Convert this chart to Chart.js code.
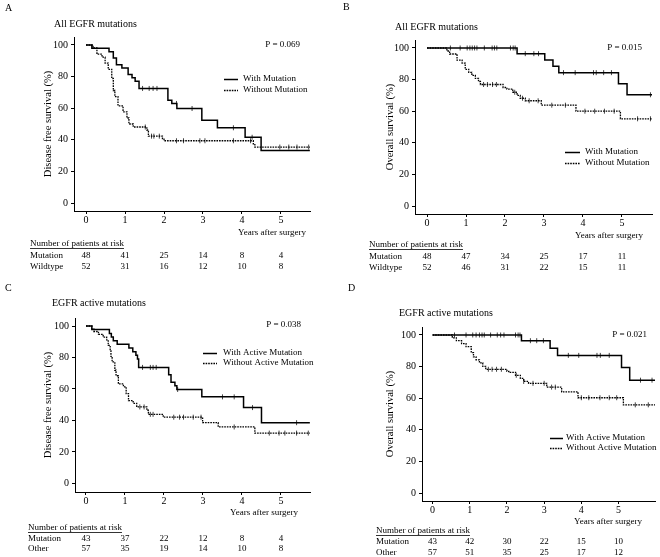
<!DOCTYPE html>
<html><head><meta charset="utf-8">
<script src="https://cdn.jsdelivr.net/npm/chart.js@4.4.0/dist/chart.umd.min.js"></script>
<style>
html,body{margin:0;padding:0;background:#fff;}
#wrap{position:relative;width:660px;height:557px;overflow:hidden;background:#fff;}
canvas{position:absolute;left:0;top:0;}
</style></head><body><div id="wrap">
<canvas id="cA" width="660" height="557"></canvas>
<canvas id="cB" width="660" height="557"></canvas>
<canvas id="cC" width="660" height="557"></canvas>
<canvas id="cD" width="660" height="557"></canvas>
</div>
<script>
// ---------------- DATA ----------------
const xTickValues = [0, 1, 2, 3, 4, 5];
const yTickValues = [0, 20, 40, 60, 80, 100];
const xAxisLabel = 'Years after surgery';
const riskHeader = 'Number of patients at risk';
const panelLetters = ['A', 'B', 'C', 'D'];
const panelTitles = ['All EGFR mutations', 'All EGFR mutations', 'EGFR active mutations', 'EGFR active mutations'];
const yAxisTitles = ['Disease free survival (%)', 'Overall survival (%)', 'Disease free survival (%)', 'Overall survival (%)'];
const pValues = ['P = 0.069', 'P = 0.015', 'P = 0.038', 'P = 0.021'];
const legendAll = ['With Mutation', 'Without Mutation'];
const legendActive = ['With Active Mutation', 'Without Active Mutation'];
const riskLabelsAll = ['Mutation', 'Wildtype'];
const riskLabelsActive = ['Mutation', 'Other'];

// Panel A: disease free survival, all EGFR mutations
const aMutT = [0, 0.15, 0.59, 0.7, 0.78, 0.92, 1.08, 1.18, 1.26, 1.36, 2.1, 2.2, 2.33, 2.97, 3.37, 4.08, 4.49, 5.74];
const aMutS = [100, 97.9, 95.8, 91.7, 87.5, 85.4, 81.3, 79.2, 77.1, 72.5, 65.0, 63.0, 59.8, 52.3, 47.6, 41.6, 33.3, 33.3];
const aMutCens = [1.45, 1.62, 1.72, 1.82, 2.32, 2.72, 3.78, 4.26];
const aWoT = [0, 0.18, 0.28, 0.41, 0.49, 0.57, 0.66, 0.7, 0.74, 0.82, 0.95, 1.05, 1.1, 1.21, 1.56, 1.6, 1.96, 2.0, 4.29, 4.33, 5.74];
const aWoS = [100, 98.1, 94.2, 92.3, 88.5, 84.6, 78.8, 71.2, 67.3, 61.5, 57.7, 53.8, 50.0, 48.1, 46.2, 42.3, 40.4, 39.4, 37.5, 35.4, 35.4];
const aWoCens = [1.52, 1.68, 1.74, 1.88, 2.32, 2.5, 2.92, 3.05, 3.78, 4.22, 4.97, 5.2, 5.41, 5.71];
const aRiskMut = [48, 41, 25, 14, 8, 4];
const aRiskWo = [52, 31, 16, 12, 10, 8];

// Panel B: overall survival, all EGFR mutations
const bMutT = [0, 2.31, 3.02, 3.23, 3.38, 4.91, 5.13, 5.77];
const bMutS = [100, 96.4, 92.4, 88.4, 84.4, 77.4, 70.4, 70.4];
const bMutCens = [0.6, 0.85, 1.03, 1.1, 1.16, 1.22, 1.28, 1.47, 1.67, 1.73, 1.79, 2.14, 2.21, 2.26, 2.52, 2.74, 2.86, 3.5, 3.8, 4.27, 4.34, 4.53, 4.73, 5.73];
const bWoT = [0, 0.51, 0.58, 0.77, 0.9, 0.98, 1.07, 1.15, 1.24, 1.32, 1.37, 1.95, 2.05, 2.2, 2.31, 2.39, 2.52, 2.93, 3.82, 4.96, 5.77];
const bWoS = [100, 98.1, 96.2, 92.3, 90.4, 86.5, 84.6, 82.7, 80.8, 78.8, 76.9, 75.0, 74.0, 72.0, 70.0, 68.2, 66.6, 63.8, 60.0, 55.2, 55.2];
const bWoCens = [1.45, 1.55, 1.68, 1.78, 2.25, 2.45, 2.62, 2.85, 3.2, 3.55, 4.05, 4.3, 4.55, 4.8, 5.4, 5.73];
const bRiskMut = [48, 47, 34, 25, 17, 11];
const bRiskWo = [52, 46, 31, 22, 15, 11];

// Panel C: disease free survival, EGFR active mutations
const cMutT = [0, 0.15, 0.6, 0.65, 0.7, 0.8, 1.1, 1.2, 1.28, 1.32, 1.35, 2.12, 2.18, 2.28, 2.33, 2.97, 4.04, 4.5, 5.74];
const cMutS = [100, 97.7, 95.3, 93.0, 90.7, 88.4, 86.0, 83.7, 81.4, 79.1, 73.7, 69.0, 64.3, 62.0, 59.7, 55.0, 48.2, 38.6, 38.6];
const cMutCens = [1.45, 1.65, 1.72, 1.8, 2.35, 3.5, 3.8, 4.27, 5.4];
const cWoT = [0, 0.15, 0.2, 0.32, 0.44, 0.53, 0.57, 0.62, 0.64, 0.67, 0.74, 0.77, 0.83, 0.96, 1.03, 1.09, 1.21, 1.3, 1.56, 1.6, 1.98, 2.99, 3.39, 4.33, 5.74];
const cWoS = [100, 98.2, 96.5, 94.7, 93.0, 91.2, 87.7, 84.2, 80.7, 77.2, 71.9, 68.4, 63.2, 61.4, 57.0, 52.6, 50.9, 48.6, 46.5, 43.9, 42.1, 38.6, 35.9, 32.0, 32.0];
const cWoCens = [1.38, 1.49, 1.65, 1.72, 2.25, 2.4, 2.5, 2.75, 2.95, 3.8, 4.7, 4.95, 5.1, 5.4, 5.7];
const cRiskMut = [43, 37, 22, 12, 8, 4];
const cRiskWo = [57, 35, 19, 14, 10, 8];

// Panel D: overall survival, EGFR active mutations
const dMutT = [0, 2.39, 3.16, 3.36, 5.08, 5.3, 5.98];
const dMutS = [100, 96.4, 91.6, 87.1, 79.4, 71.4, 71.4];
const dMutCens = [0.59, 0.9, 1.08, 1.17, 1.26, 1.33, 1.39, 1.56, 1.74, 1.83, 1.92, 2.23, 2.3, 2.35, 2.63, 2.8, 2.98, 3.65, 3.93, 4.42, 4.51, 4.75, 5.59, 5.9];
const dWoT = [0, 0.53, 0.64, 0.78, 0.9, 1.04, 1.1, 1.17, 1.26, 1.35, 1.43, 2.0, 2.05, 2.23, 2.36, 2.45, 2.58, 3.07, 3.47, 3.91, 5.13, 5.98];
const dWoS = [100, 98.2, 96.4, 94.6, 92.6, 88.9, 86.2, 84.3, 82.4, 80.2, 78.3, 77.0, 76.4, 74.5, 72.5, 70.6, 69.4, 67.0, 64.0, 60.3, 55.8, 55.8];
const dWoCens = [1.5, 1.6, 1.72, 1.85, 2.25, 2.45, 2.7, 3.0, 3.2, 3.3, 4.0, 4.2, 4.5, 4.75, 4.95, 5.45, 5.8];
const dRiskMut = [43, 42, 30, 22, 15, 10];
const dRiskWo = [57, 51, 35, 25, 17, 12];

// ---------------- LAYOUT / STYLE ----------------
const FONT = "'Liberation Serif','Times New Roman',serif";
const layouts = [
  {panelLeft: 0,   chart: {l: 74,  r: 310, t: 37,  b: 211}, x: [-0.308, 5.744], y: [-5.06, 105.06], yTitleX: 48,
   letter: [5, 8], title: [54, 24], p: [300, 45], legend: {x1: 224, x2: 238, tx: 243, y: [79, 90]}, years: [306, 233], table: {x: 30, y: [244, 256, 267]}},
  {panelLeft: 330, chart: {l: 415, r: 652, t: 40,  b: 214}, x: [-0.308, 5.77], y: [-5.06, 105.06], yTitleX: 390,
   letter: [343, 7], title: [395, 27], p: [642, 48], legend: {x1: 565, x2: 580, tx: 585, y: [152, 163]}, years: [643, 236], table: {x: 369, y: [245, 257, 268]}},
  {panelLeft: 0,   chart: {l: 75,  r: 310, t: 318, b: 492}, x: [-0.282, 5.744], y: [-5.4, 105.08], yTitleX: 48,
   letter: [5, 288], title: [52, 303], p: [301, 325], legend: {x1: 203, x2: 217, tx: 223, y: [353, 363]}, years: [298, 513], table: {x: 28, y: [528, 539, 549]}},
  {panelLeft: 330, chart: {l: 422, r: 658, t: 327, b: 501}, x: [-0.284, 5.98], y: [-5.06, 105.06], yTitleX: 390,
   letter: [348, 288], title: [399, 313], p: [647, 335], legend: {x1: 550, x2: 563, tx: 566, y: [438, 448]}, years: [642, 522], table: {x: 376, y: [531, 542, 553]}}
];

function steps(T, S) { return T.map((t, i) => ({x: t, y: S[i]})); }
function survAt(T, S, t) { let v = S[0]; for (let i = 0; i < T.length; i++) { if (T[i] <= t) v = S[i]; } return v; }
function cens(T, S, C) { return C.map(t => ({x: t, y: survAt(T, S, t)})); }

const annot = {
  id: 'annot',
  afterDraw(chart, args, o) {
    const L = o.L, ctx = chart.ctx, xs = chart.scales.x;
    ctx.save();
    ctx.fillStyle = '#000';
    ctx.textBaseline = 'middle';
    ctx.textAlign = 'left';
    ctx.font = `10px ${FONT}`;
    ctx.fillText(o.letter, L.letter[0], L.letter[1]);
    ctx.fillText(o.title, L.title[0], L.title[1]);
    ctx.font = `9px ${FONT}`;
    ctx.textAlign = 'right';
    ctx.fillText(o.p, L.p[0], L.p[1]);
    o.legend.forEach((lab, i) => {
      const ds = chart.data.datasets[i];
      const y = L.legend.y[i] + 0.5;
      ctx.beginPath();
      ctx.setLineDash(ds.borderDash || []);
      ctx.lineWidth = ds.borderWidth;
      ctx.strokeStyle = ds.borderColor;
      ctx.moveTo(L.legend.x1, y); ctx.lineTo(L.legend.x2, y); ctx.stroke();
      ctx.setLineDash([]);
      ctx.textAlign = 'left';
      ctx.fillText(lab, L.legend.tx, L.legend.y[i]);
    });
    ctx.textAlign = 'right';
    ctx.fillText(xAxisLabel, L.years[0], L.years[1]);
    // risk table
    ctx.textAlign = 'left';
    ctx.fillText(riskHeader, L.table.x, L.table.y[0]);
    const w = ctx.measureText(riskHeader).width;
    ctx.beginPath(); ctx.lineWidth = 0.8; ctx.strokeStyle = '#000';
    ctx.moveTo(L.table.x, L.table.y[0] + 4.5); ctx.lineTo(L.table.x + w, L.table.y[0] + 4.5); ctx.stroke();
    o.rows.forEach((row, r) => {
      const y = L.table.y[r + 1];
      ctx.textAlign = 'left';
      ctx.fillText(o.rowLabels[r], L.table.x, y);
      ctx.textAlign = 'center';
      row.forEach((v, i) => ctx.fillText(String(v), xs.getPixelForValue(xTickValues[i]), y));
    });
    ctx.restore();
  }
};

function makeChart(id, idx, mutT, mutS, mutC, woT, woS, woC, legend, rowLabels, rows) {
  const L = layouts[idx];
  const axisGrid = {display: true, drawOnChartArea: false, drawTicks: true, tickLength: 3, color: '#000', lineWidth: 1};
  const axisBorder = {display: true, color: '#000', width: 1};
  return new Chart(document.getElementById(id), {
    type: 'line',
    data: {
      datasets: [
        {label: legend[0], data: steps(mutT, mutS), stepped: 'before', borderColor: '#000', borderWidth: 1.5, pointRadius: 0, fill: false},
        {label: legend[1], data: steps(woT, woS), stepped: 'before', borderColor: '#000', borderWidth: 1.3, borderDash: [1.6, 1], pointRadius: 0, fill: false},
        {label: 'c1', data: cens(mutT, mutS, mutC), showLine: false, pointStyle: 'line', pointRotation: 90, pointRadius: 2.5, pointBorderWidth: 1, pointBorderColor: '#444'},
        {label: 'c2', data: cens(woT, woS, woC), showLine: false, pointStyle: 'line', pointRotation: 90, pointRadius: 2.5, pointBorderWidth: 1, pointBorderColor: '#444'}
      ]
    },
    options: {
      responsive: false, animation: false, devicePixelRatio: 1,
      layout: {padding: {left: L.panelLeft, right: 660 - L.chart.r, top: L.chart.t, bottom: 557 - L.chart.b - 20}},
      plugins: {legend: {display: false}, tooltip: {enabled: false},
        annot: {L, letter: panelLetters[idx], title: panelTitles[idx], p: pValues[idx], legend, rowLabels, rows}},
      scales: {
        x: {type: 'linear', min: L.x[0], max: L.x[1],
          afterBuildTicks: s => { s.ticks = xTickValues.map(v => ({value: v})); },
          afterFit: s => { s.height = 20; },
          grid: axisGrid, border: axisBorder,
          ticks: {color: '#000', font: {family: FONT, size: 10}, padding: 0, maxRotation: 0, autoSkip: false}},
        y: {type: 'linear', min: L.y[0], max: L.y[1],
          afterBuildTicks: s => { s.ticks = yTickValues.map(v => ({value: v})); },
          afterFit: s => { s.width = L.chart.l - L.panelLeft; },
          grid: axisGrid, border: axisBorder,
          ticks: {color: '#000', font: {family: FONT, size: 10}, padding: 3},
          title: {display: true, text: yAxisTitles[idx], color: '#000', font: {family: FONT, size: 10.5},
                  padding: {top: L.yTitleX - L.panelLeft - 6.3, bottom: 0}}}
      }
    },
    plugins: [annot]
  });
}

makeChart('cA', 0, aMutT, aMutS, aMutCens, aWoT, aWoS, aWoCens, legendAll, riskLabelsAll, [aRiskMut, aRiskWo]);
makeChart('cB', 1, bMutT, bMutS, bMutCens, bWoT, bWoS, bWoCens, legendAll, riskLabelsAll, [bRiskMut, bRiskWo]);
makeChart('cC', 2, cMutT, cMutS, cMutCens, cWoT, cWoS, cWoCens, legendActive, riskLabelsActive, [cRiskMut, cRiskWo]);
makeChart('cD', 3, dMutT, dMutS, dMutCens, dWoT, dWoS, dWoCens, legendActive, riskLabelsActive, [dRiskMut, dRiskWo]);
</script>
</body></html>
